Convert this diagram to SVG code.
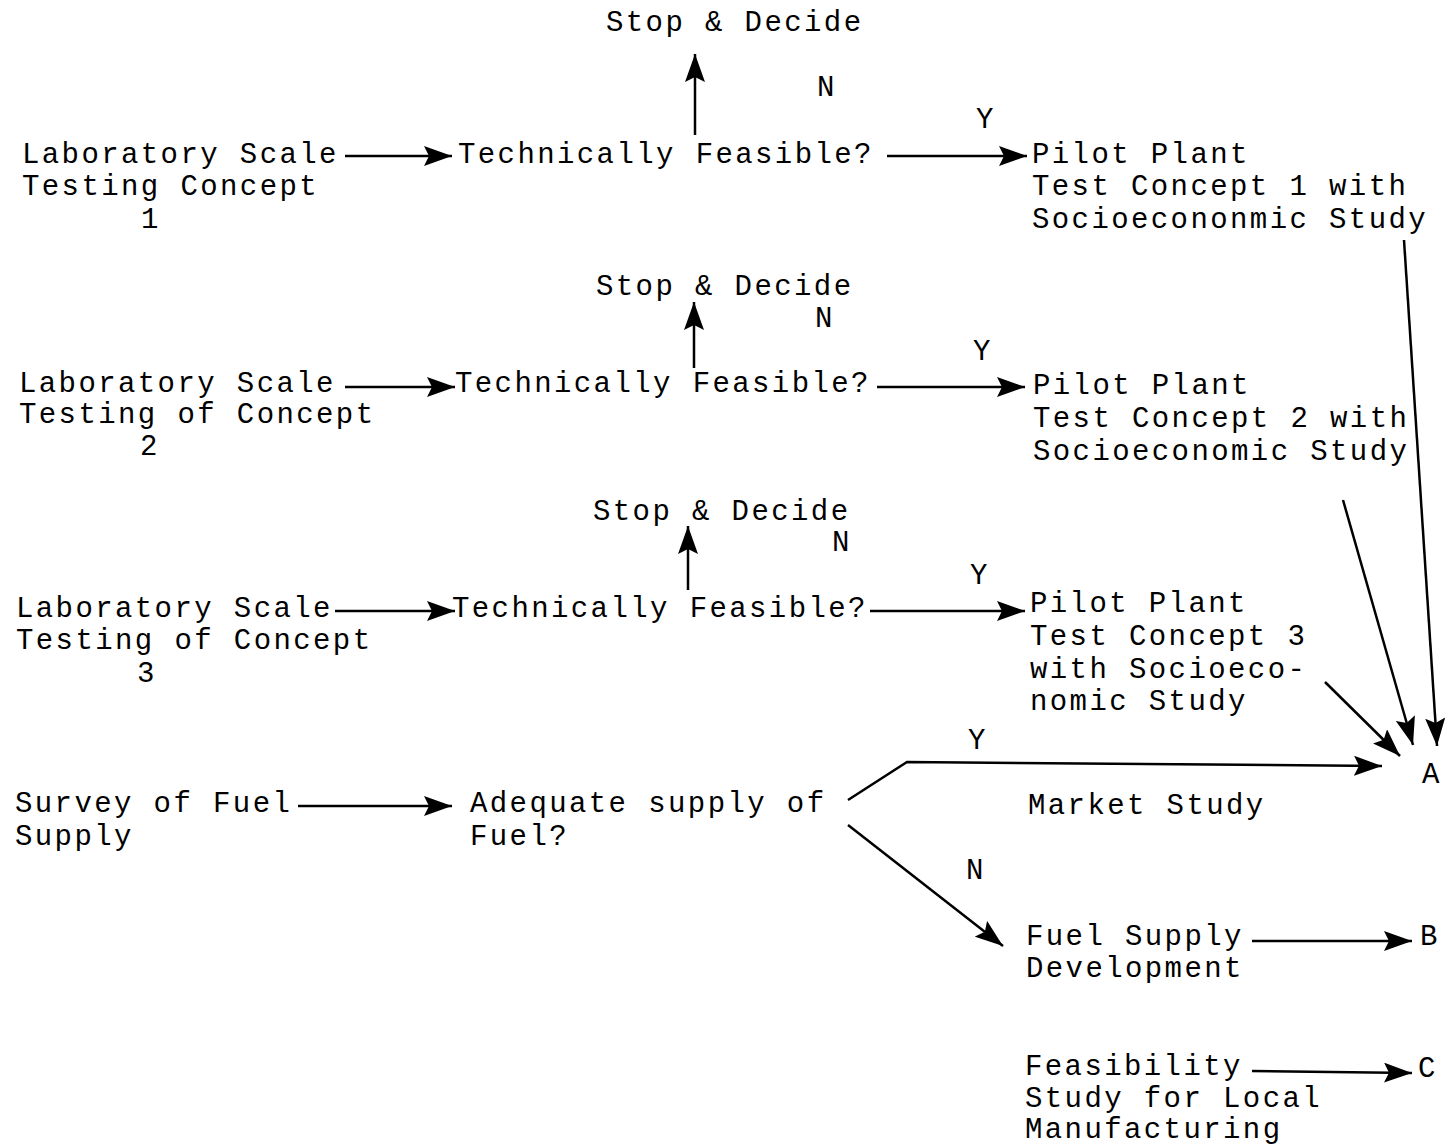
<svg xmlns="http://www.w3.org/2000/svg" width="1455" height="1147" viewBox="0 0 1455 1147">
<style>
text{font-family:"Liberation Mono","DejaVu Sans Mono",monospace;font-size:29px;letter-spacing:2.4px;fill:#000}
.c line,.c polyline{stroke:#000;stroke-width:2.5;fill:none}
</style>
<defs>
<marker id="ah" markerUnits="userSpaceOnUse" markerWidth="30" markerHeight="20" refX="28" refY="10" orient="auto"><path d="M0,0 L28,10 L0,20 L5,10 z" fill="#000"/></marker>
</defs>
<rect width="1455" height="1147" fill="#fff"/>
<g id="stop1"><text x="606" y="31">Stop &amp; Decide</text></g>
<g id="lab1"><text x="22" y="163">Laboratory Scale</text><text x="22" y="195">Testing Concept</text><text x="141" y="228">1</text></g>
<g id="tf1"><text x="458" y="163">Technically Feasible?</text></g>
<g id="pilot1"><text x="1032" y="163">Pilot Plant</text><text x="1032" y="195">Test Concept 1 with</text><text x="1032" y="228">Socioecononmic Study</text></g>
<g id="stop2"><text x="596" y="295">Stop &amp; Decide</text></g>
<g id="lab2"><text x="19" y="392">Laboratory Scale</text><text x="19" y="423">Testing of Concept</text><text x="140" y="455">2</text></g>
<g id="tf2"><text x="455" y="392">Technically Feasible?</text></g>
<g id="pilot2"><text x="1033" y="394">Pilot Plant</text><text x="1033" y="427">Test Concept 2 with</text><text x="1033" y="460">Socioeconomic Study</text></g>
<g id="stop3"><text x="593" y="520">Stop &amp; Decide</text></g>
<g id="lab3"><text x="16" y="617">Laboratory Scale</text><text x="16" y="649">Testing of Concept</text><text x="137" y="682">3</text></g>
<g id="tf3"><text x="452" y="617">Technically Feasible?</text></g>
<g id="pilot3"><text x="1030" y="612">Pilot Plant</text><text x="1030" y="645">Test Concept 3</text><text x="1030" y="678">with Socioeco-</text><text x="1030" y="710">nomic Study</text></g>
<g id="survey"><text x="15" y="812">Survey of Fuel</text><text x="15" y="845">Supply</text></g>
<g id="adequate"><text x="470" y="812">Adequate supply of</text><text x="470" y="845">Fuel?</text></g>
<g id="market"><text x="1028" y="814">Market Study</text></g>
<g id="fueldev"><text x="1026" y="945">Fuel Supply</text><text x="1026" y="977">Development</text></g>
<g id="feas"><text x="1025" y="1075">Feasibility</text><text x="1025" y="1107">Study for Local</text><text x="1025" y="1138">Manufacturing</text></g>
<g id="A"><text x="1422" y="783">A</text></g>
<g id="B"><text x="1420" y="945">B</text></g>
<g id="C"><text x="1418" y="1077">C</text></g>
<g id="labels">
<text x="817" y="96">N</text><text x="976" y="128">Y</text>
<text x="815" y="327">N</text><text x="973" y="360">Y</text>
<text x="832" y="551">N</text><text x="970" y="584">Y</text>
<text x="968" y="749">Y</text><text x="966" y="879">N</text>
</g>
<g class="c" id="connectors">
<line x1="345" y1="156" x2="452" y2="156" marker-end="url(#ah)"/>
<line x1="695" y1="135" x2="695" y2="54" marker-end="url(#ah)"/>
<line x1="887" y1="156" x2="1027" y2="156" marker-end="url(#ah)"/>
<line x1="345" y1="387" x2="455" y2="387" marker-end="url(#ah)"/>
<line x1="694" y1="368" x2="694" y2="302" marker-end="url(#ah)"/>
<line x1="877" y1="387" x2="1025" y2="387" marker-end="url(#ah)"/>
<line x1="335" y1="611" x2="455" y2="611" marker-end="url(#ah)"/>
<line x1="688" y1="590" x2="688" y2="526" marker-end="url(#ah)"/>
<line x1="870" y1="611" x2="1025" y2="611" marker-end="url(#ah)"/>
<line x1="298" y1="806" x2="452" y2="806" marker-end="url(#ah)"/>
<polyline points="848,800 907,762 1382,766" marker-end="url(#ah)"/>
<line x1="848" y1="825" x2="1003" y2="946" marker-end="url(#ah)"/>
<line x1="1252" y1="941" x2="1412" y2="941" marker-end="url(#ah)"/>
<line x1="1252" y1="1071" x2="1412" y2="1073" marker-end="url(#ah)"/>
<line x1="1404" y1="240" x2="1437" y2="746" marker-end="url(#ah)"/>
<line x1="1343" y1="500" x2="1413" y2="745" marker-end="url(#ah)"/>
<line x1="1325" y1="682" x2="1400" y2="756" marker-end="url(#ah)"/>
</g>
</svg>
